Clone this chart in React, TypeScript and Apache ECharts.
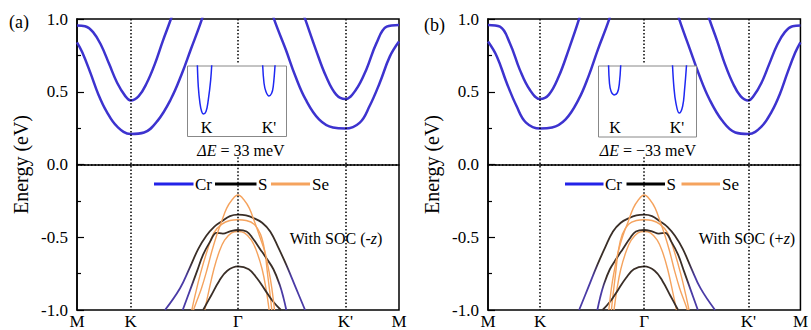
import React, { useEffect, useRef } from 'react';
import * as echarts from 'echarts';

const FONT = 'Liberation Serif';

// k-path positions (M-K : K-Γ : Γ-K' : K'-M = 1 : 2 : 2 : 1)
const K_POS = [0, 1, 3, 5, 6];
const K_NAMES = ['M', 'K', 'Γ', "K'", 'M'];
const E_MIN = -1;
const E_MAX = 1;
const E_STEP = 0.5;

// ---------- panel (a): SOC along -z ----------
const aCrInnerL = [[0, 0.955], [0.15, 0.95], [0.3, 0.91], [0.45, 0.82], [0.6, 0.69], [0.75, 0.56], [0.9, 0.47], [1.0, 0.44], [1.15, 0.47], [1.3, 0.56], [1.45, 0.69], [1.6, 0.85], [1.75, 1.0], [1.8, 1.06]];
const aCrOuterL = [[0, 0.84], [0.1, 0.77], [0.25, 0.63], [0.4, 0.48], [0.55, 0.365], [0.75, 0.26], [1.0, 0.21], [1.25, 0.22], [1.5, 0.3], [1.75, 0.45], [1.95, 0.62], [2.12, 0.79], [2.32, 0.99], [2.36, 1.05]];
const aCrInnerR = [[4.2, 1.05], [4.26, 0.99], [4.45, 0.79], [4.64, 0.606], [4.83, 0.48], [5.0, 0.45], [5.2, 0.515], [5.39, 0.652], [5.58, 0.834], [5.77, 0.947], [6, 0.959]];
const aCrOuterR = [[3.64, 1.05], [3.68, 0.99], [3.89, 0.79], [4.07, 0.606], [4.26, 0.447], [4.51, 0.31], [4.77, 0.254], [5.0, 0.247], [5.27, 0.288], [5.45, 0.4], [5.64, 0.56], [5.83, 0.743], [6, 0.845]];
const aS1 = [[1.64, -1.0], [1.92, -0.85], [2.1, -0.71], [2.26, -0.58], [2.41, -0.49], [2.55, -0.43], [2.7, -0.39], [2.85, -0.355], [3.0, -0.345], [3.15, -0.35], [3.3, -0.37], [3.45, -0.4], [3.6, -0.46], [3.75, -0.57], [3.9, -0.69], [4.08, -0.85], [4.25, -1.0]];
const aS2 = [[1.97, -1.0], [2.1, -0.87], [2.23, -0.74], [2.35, -0.62], [2.48, -0.53], [2.6, -0.47], [2.72, -0.475], [2.85, -0.46], [3.0, -0.45], [3.16, -0.46], [3.28, -0.51], [3.41, -0.58], [3.53, -0.645], [3.66, -0.72], [3.78, -0.83], [3.85, -0.92], [3.9, -1.0]];
const aS3 = [[2.35, -1.0], [2.5, -0.9], [2.65, -0.8], [2.8, -0.73], [3.0, -0.7], [3.2, -0.72], [3.35, -0.78], [3.5, -0.86], [3.65, -0.94], [3.8, -1.0]];
const aSe1 = [[2.17, -1.0], [2.23, -0.94], [2.32, -0.85], [2.41, -0.74], [2.51, -0.6], [2.6, -0.49], [2.69, -0.395], [2.79, -0.3], [2.88, -0.247], [3.0, -0.21], [3.12, -0.247], [3.21, -0.3], [3.31, -0.395], [3.4, -0.49], [3.5, -0.6], [3.58, -0.74], [3.63, -0.85], [3.68, -1.0]];
const aSe2 = [[2.14, -1.0], [2.2, -0.9], [2.3, -0.75], [2.42, -0.6], [2.55, -0.47], [2.7, -0.41], [2.85, -0.385], [3.0, -0.38], [3.15, -0.385], [3.3, -0.41], [3.42, -0.48], [3.5, -0.6], [3.55, -0.75], [3.6, -0.9], [3.63, -1.0]];
const aSe3 = [[2.38, -1.0], [2.45, -0.88], [2.55, -0.72], [2.65, -0.6], [2.75, -0.52], [2.88, -0.47], [3.0, -0.46], [3.12, -0.47], [3.25, -0.52], [3.35, -0.6], [3.45, -0.72], [3.52, -0.85], [3.58, -1.0]];
const aInsetK = [[0.099, 1.05], [0.109, 0.71], [0.126, 0.47], [0.143, 0.354], [0.16, 0.32], [0.187, 0.354], [0.21, 0.52], [0.234, 0.8], [0.246, 1.05]];
const aInsetKp = [[0.758, 1.05], [0.773, 0.755], [0.793, 0.636], [0.823, 0.576], [0.85, 0.614], [0.866, 0.707], [0.886, 1.05]];

// ---------- panel (b): SOC along +z ----------
const bCrInnerL = [[0, 0.959], [0.23, 0.947], [0.42, 0.834], [0.61, 0.652], [0.8, 0.515], [1.0, 0.45], [1.17, 0.48], [1.36, 0.606], [1.55, 0.79], [1.74, 0.99], [1.78, 1.05]];
const bCrOuterL = [[0, 0.845], [0.17, 0.743], [0.36, 0.56], [0.55, 0.4], [0.73, 0.288], [1.0, 0.247], [1.23, 0.254], [1.49, 0.31], [1.74, 0.447], [1.93, 0.606], [2.11, 0.79], [2.32, 0.99], [2.36, 1.05]];
const bCrInnerR = [[4.2, 1.06], [4.25, 1.0], [4.4, 0.85], [4.55, 0.69], [4.7, 0.56], [4.85, 0.47], [5.0, 0.44], [5.1, 0.47], [5.25, 0.56], [5.4, 0.69], [5.55, 0.82], [5.7, 0.91], [5.85, 0.95], [6, 0.955]];
const bCrOuterR = [[3.64, 1.05], [3.68, 0.99], [3.88, 0.79], [4.05, 0.62], [4.25, 0.45], [4.5, 0.3], [4.75, 0.22], [5.0, 0.21], [5.25, 0.26], [5.45, 0.365], [5.6, 0.48], [5.75, 0.63], [5.9, 0.77], [6, 0.84]];
const bS1 = [[1.75, -1.0], [1.92, -0.85], [2.1, -0.69], [2.25, -0.57], [2.4, -0.46], [2.55, -0.4], [2.7, -0.37], [2.85, -0.35], [3.0, -0.345], [3.15, -0.355], [3.3, -0.39], [3.45, -0.43], [3.59, -0.49], [3.74, -0.58], [3.9, -0.71], [4.08, -0.85], [4.36, -1.0]];
const bS2 = [[2.1, -1.0], [2.15, -0.92], [2.22, -0.83], [2.34, -0.72], [2.47, -0.645], [2.59, -0.58], [2.72, -0.51], [2.84, -0.46], [3.0, -0.45], [3.15, -0.46], [3.28, -0.475], [3.4, -0.47], [3.52, -0.53], [3.65, -0.62], [3.77, -0.74], [3.9, -0.87], [4.03, -1.0]];
const bS3 = [[2.2, -1.0], [2.35, -0.94], [2.5, -0.86], [2.65, -0.78], [2.8, -0.72], [3.0, -0.7], [3.2, -0.73], [3.35, -0.8], [3.5, -0.9], [3.65, -1.0]];
const bSe1 = [[2.32, -1.0], [2.37, -0.85], [2.42, -0.74], [2.5, -0.6], [2.59, -0.49], [2.69, -0.395], [2.79, -0.3], [2.88, -0.247], [3.0, -0.21], [3.12, -0.247], [3.21, -0.3], [3.31, -0.395], [3.4, -0.49], [3.49, -0.6], [3.59, -0.74], [3.68, -0.85], [3.77, -0.94], [3.83, -1.0]];
const bSe2 = [[2.37, -1.0], [2.4, -0.9], [2.45, -0.75], [2.5, -0.6], [2.58, -0.48], [2.7, -0.41], [2.85, -0.385], [3.0, -0.38], [3.15, -0.385], [3.3, -0.41], [3.45, -0.47], [3.58, -0.6], [3.7, -0.75], [3.8, -0.9], [3.86, -1.0]];
const bSe3 = [[2.42, -1.0], [2.48, -0.85], [2.55, -0.72], [2.65, -0.6], [2.75, -0.52], [2.88, -0.47], [3.0, -0.46], [3.12, -0.47], [3.25, -0.52], [3.35, -0.6], [3.45, -0.72], [3.55, -0.88], [3.62, -1.0]];
const bInsetK = [[0.102, 1.05], [0.112, 0.757], [0.129, 0.64], [0.159, 0.593], [0.193, 0.625], [0.213, 0.757], [0.228, 1.05]];
const bInsetKp = [[0.754, 1.05], [0.769, 0.71], [0.79, 0.477], [0.823, 0.337], [0.858, 0.43], [0.878, 0.663], [0.9, 1.05]];

const LEGEND_NAMES = ['Cr', 'S', 'Se'];
const DELTA_E = ['33', '\u221233'];
const SOC_DIR = ['-', '+'];
const Y_NAME = 'Energy (eV)';

const CR = '#3d33cf';
const CR_LEG = '#2323e8';
const S_DARK = '#3a2e27';
const S_PURPLE = '#4a3ba6';
const SE = '#f5a35e';
const INSET_BLUE = '#1e28f2';

export default function App() {
  const ref = useRef<HTMLDivElement>(null);
  useEffect(() => {
    document.body.style.margin = '0';
    const chart = echarts.init(ref.current!, null, { renderer: 'svg' });

    const sGrad = (stop: number) =>
      new echarts.graphic.LinearGradient(0, 0, 0, 1, [
        { offset: 0, color: S_DARK },
        { offset: stop, color: S_DARK },
        { offset: Math.min(1, stop + 0.15), color: S_PURPLE },
        { offset: 1, color: S_PURPLE },
      ]);

    const line = (g: number, data: number[][], color: any, width: number, name: string, z = 2, extra: any = {}) => ({
      type: 'line',
      name,
      xAxisIndex: g,
      yAxisIndex: g,
      data,
      smooth: 0.4,
      symbol: 'none',
      showSymbol: false,
      clip: true,
      z,
      lineStyle: { color, width },
      ...extra,
    });

    const refLines = (gTop: number) => ({
      markLine: {
        silent: true,
        symbol: ['none', 'none'],
        label: { show: false },
        lineStyle: { color: '#000', width: 1.5, type: [1.5, 2] },
        data: [
          [{ coord: [K_POS[1], E_MAX] }, { coord: [K_POS[1], E_MIN] }],
          [{ coord: [K_POS[2], E_MAX] }, { coord: [K_POS[2], gTop] }],
          [{ coord: [K_POS[2], 0.05] }, { coord: [K_POS[2], E_MIN] }],
          [{ coord: [K_POS[3], E_MAX] }, { coord: [K_POS[3], E_MIN] }],
          [{ coord: [K_POS[0], 0] }, { coord: [K_POS[4], 0] }],
        ],
      },
    });

    const panelSeries = (g: number, d: any) => [
      line(g, d.crInL, CR, 2.5, 'Cr', 3, refLines(0.7)),
      line(g, d.crOutL, CR, 2.5, 'Cr', 3),
      line(g, d.crInR, CR, 2.5, 'Cr', 3),
      line(g, d.crOutR, CR, 2.5, 'Cr', 3),
      line(g, d.se2, SE, 1.4, 'Se', 2),
      line(g, d.se3, SE, 1.4, 'Se', 2),
      line(g, d.s3, S_DARK, 1.8, 'S', 3),
      line(g, d.s2, sGrad(0.6), 1.8, 'S', 3),
      line(g, d.s1, sGrad(0.5), 1.8, 'S', 3),
      line(g, d.se1, SE, 1.4, 'Se', 4),
    ];

    const kLabel = (v: number) => {
      const i = K_POS.indexOf(Math.round(v * 1000) / 1000);
      return i >= 0 ? K_NAMES[i] : '';
    };

    const mainX = (g: number) => ({
      type: 'value', gridIndex: g, min: K_POS[0], max: K_POS[4], interval: 1,
      axisLine: { show: true, lineStyle: { color: '#000', width: 1.5 } },
      axisTick: { show: false },
      splitLine: { show: false },
      axisLabel: { formatter: kLabel, fontSize: 17, fontFamily: FONT, color: '#000', margin: 3, showMinLabel: true, showMaxLabel: true },
    });
    const mainY = (g: number) => ({
      type: 'value', gridIndex: g, min: E_MIN, max: E_MAX, interval: E_STEP,
      name: Y_NAME, nameLocation: 'middle', nameRotate: 90, nameGap: 46,
      nameTextStyle: { fontSize: 20, fontFamily: FONT, color: '#000' },
      axisLine: { show: true, lineStyle: { color: '#000', width: 1.5 } },
      axisTick: { show: true, inside: true, length: 7, lineStyle: { color: '#000', width: 1.2 } },
      minorTick: { show: true, splitNumber: 2, length: 4, lineStyle: { color: '#000', width: 1.2 } },
      splitLine: { show: false },
      axisLabel: { formatter: (v: number) => v.toFixed(1), fontSize: 17, fontFamily: FONT, color: '#000', margin: 9 },
    });
    const insetX = (g: number) => ({ type: 'value', gridIndex: g, min: 0, max: 1, show: false });
    const insetY = (g: number) => ({ type: 'value', gridIndex: g, min: 0, max: 1, show: false });

    const label = (x: number, y: number, text: string, size = 17, align = 'left') => ({
      text,
      left: x,
      top: y,
      padding: 0,
      textAlign: align,
      textVerticalAlign: 'middle',
      z: 20,
      textStyle: {
        fontFamily: FONT, fontSize: size, fontWeight: 'normal', color: '#000',
        rich: {
          i: { fontFamily: FONT, fontSize: size, fontStyle: 'italic', fontWeight: 'normal', color: '#000' },
          n: { fontFamily: FONT, fontSize: size, fontWeight: 'normal', color: '#000' },
        },
      },
    });

    const seg = (x1: number, x2: number, y: number, color: string) => ({
      type: 'line', z: 100, shape: { x1, y1: y, x2, y2: y }, style: { stroke: color, lineWidth: 3 },
    });
    const legendLines = (x0: number, y: number, xs: number[]) => [
      seg(x0, xs[0], y, CR_LEG), seg(xs[1], xs[2], y, '#000'), seg(xs[3], xs[4], y, SE),
    ];
    const legendTexts = (y: number, xs: number[]) => [
      label(xs[0] + 1.5, y, LEGEND_NAMES[0]),
      label(xs[2] + 1.5, y, LEGEND_NAMES[1]),
      label(xs[4] + 2, y, LEGEND_NAMES[2]),
    ];
    const legA = [193.5, 215, 256.5, 271, 310];
    const legB = [603.5, 626.5, 665, 681.5, 720];

    const option: any = {
      animation: false,
      backgroundColor: '#fff',
      textStyle: { fontFamily: FONT },
      title: [
        label(9, 22, '(a)', 18),
        label(424, 25, '(b)', 18),
        label(206.5, 127, K_NAMES[1], 16, 'center'),
        label(269, 127, K_NAMES[3], 16, 'center'),
        label(615, 127, K_NAMES[1], 16, 'center'),
        label(677, 127, K_NAMES[3], 16, 'center'),
        label(241, 150, `{i|ΔE}{n| = ${DELTA_E[0]} meV}`, 16, 'center'),
        label(648, 150, `{i|ΔE}{n| = ${DELTA_E[1]} meV}`, 16, 'center'),
        ...legendTexts(184, legA),
        ...legendTexts(184, legB),
        label(336, 238, `{n|With SOC (${SOC_DIR[0]}}{i|z}{n|)}`, 16, 'center'),
        label(747, 238, `{n|With SOC (${SOC_DIR[1]}}{i|z}{n|)}`, 16, 'center'),
      ],
      grid: [
        { left: 77, top: 19, width: 322, height: 292, show: true, borderColor: '#000', borderWidth: 1.5 },
        { left: 488, top: 19, width: 319, height: 292, show: true, borderColor: '#000', borderWidth: 1.5 },
        { left: 187.5, top: 66, width: 99, height: 70.5, show: true, borderColor: '#888', borderWidth: 1, backgroundColor: '#fff', z: 5 },
        { left: 598.5, top: 66, width: 98, height: 71, show: true, borderColor: '#888', borderWidth: 1, backgroundColor: '#fff', z: 5 },
      ],
      xAxis: [mainX(0), mainX(1), insetX(2), insetX(3)],
      yAxis: [mainY(0), mainY(1), insetY(2), insetY(3)],
      series: [
        ...panelSeries(0, { crInL: aCrInnerL, crOutL: aCrOuterL, crInR: aCrInnerR, crOutR: aCrOuterR, s1: aS1, s2: aS2, s3: aS3, se1: aSe1, se2: aSe2, se3: aSe3 }),
        ...panelSeries(1, { crInL: bCrInnerL, crOutL: bCrOuterL, crInR: bCrInnerR, crOutR: bCrOuterR, s1: bS1, s2: bS2, s3: bS3, se1: bSe1, se2: bSe2, se3: bSe3 }),
        line(2, aInsetK, INSET_BLUE, 1.5, 'inset', 10),
        line(2, aInsetKp, INSET_BLUE, 1.5, 'inset', 10),
        line(3, bInsetK, INSET_BLUE, 1.5, 'inset', 10),
        line(3, bInsetKp, INSET_BLUE, 1.5, 'inset', 10),
      ],
      graphic: [
        ...legendLines(154, 184, legA),
        ...legendLines(565, 184, legB),
      ],
    };
    chart.setOption(option);
    return () => chart.dispose();
  }, []);
  return <div ref={ref} style={{ position: 'absolute', left: 0, top: 0, width: 811, height: 330 }} />;
}
